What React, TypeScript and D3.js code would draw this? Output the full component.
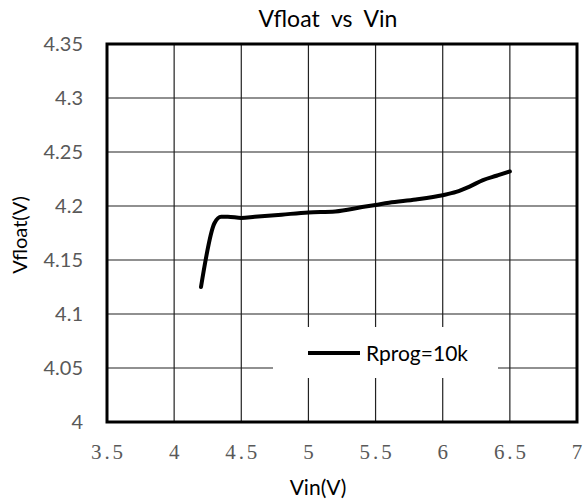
import React, { useRef, useEffect } from "react";
import * as d3 from "d3";

interface IPoint {
  vin: number;
  vfloat: number;
}

// Rprog=10k curve
const vinValues = [4.2, 4.3, 4.35, 4.4, 4.5, 4.6, 4.8, 5.0, 5.2, 5.4, 5.5, 5.6, 5.8, 6.0, 6.1, 6.2, 6.3, 6.4, 6.5];
const vfloatValues = [4.125, 4.184, 4.19, 4.19, 4.189, 4.19, 4.192, 4.194, 4.195, 4.199, 4.201, 4.203, 4.206, 4.21, 4.213, 4.218, 4.224, 4.228, 4.232];

const xTicks = [3.5, 4, 4.5, 5, 5.5, 6, 6.5, 7];
const xTickLabels = ["3.5", "4", "4.5", "5", "5.5", "6", "6.5", "7"];
const yTicks = [4, 4.05, 4.1, 4.15, 4.2, 4.25, 4.3, 4.35];
const yTickLabels = ["4", "4.05", "4.1", "4.15", "4.2", "4.25", "4.3", "4.35"];

const seriesName = "Rprog=10k";

const sans = "Lato, sans-serif";

const App: React.FC = () => {
  const ref = useRef<SVGSVGElement>(null);
  const width = 585;
  const height = 504;
  const margin = { top: 44, right: 8, bottom: 82, left: 107 };
  const innerWidth = width - margin.left - margin.right;
  const innerHeight = height - margin.top - margin.bottom;

  useEffect(() => {
    const svg = d3.select(ref.current);
    svg.selectAll("*").remove();
    const data: IPoint[] = vinValues.map((v, i) => ({ vin: v, vfloat: vfloatValues[i] }));

    const xScale = d3.scaleLinear().domain([3.5, 7]).range([0, innerWidth]);
    const yScale = d3.scaleLinear().domain([4, 4.35]).range([innerHeight, 0]);

    const g = svg.append("g").attr("transform", `translate(${margin.left}, ${margin.top})`);

    // grid
    g.selectAll(".vgrid")
      .data(xTicks.slice(1, -1))
      .enter()
      .append("line")
      .attr("x1", (d) => xScale(d))
      .attr("x2", (d) => xScale(d))
      .attr("y1", 0)
      .attr("y2", innerHeight)
      .attr("stroke", "#222")
      .attr("stroke-width", 1.2);
    g.selectAll(".hgrid")
      .data(yTicks.slice(1, -1))
      .enter()
      .append("line")
      .attr("x1", 0)
      .attr("x2", innerWidth)
      .attr("y1", (d) => yScale(d))
      .attr("y2", (d) => yScale(d))
      .attr("stroke", "#222")
      .attr("stroke-width", 1.2);

    // legend box covers the grid
    const lx = 273 - margin.left;
    const ly = 327 - margin.top;
    g.append("rect").attr("x", lx).attr("y", ly).attr("width", 225).attr("height", 51).attr("fill", "white");
    g.append("line")
      .attr("x1", lx + 35)
      .attr("x2", lx + 87)
      .attr("y1", ly + 26)
      .attr("y2", ly + 26)
      .attr("stroke", "black")
      .attr("stroke-width", 4);
    g.append("text")
      .attr("x", lx + 93)
      .attr("y", ly + 26)
      .attr("dy", "0.36em")
      .attr("font-family", sans)
      .attr("font-size", 21)
      .attr("fill", "black")
      .text(seriesName);

    // frame
    g.append("rect")
      .attr("width", innerWidth)
      .attr("height", innerHeight)
      .attr("fill", "none")
      .attr("stroke", "black")
      .attr("stroke-width", 3);

    const line = d3
      .line<IPoint>()
      .x((d) => xScale(d.vin))
      .y((d) => yScale(d.vfloat))
      .curve(d3.curveMonotoneX);

    g.append("path")
      .attr("d", line(data) || "")
      .attr("fill", "none")
      .attr("stroke", "black")
      .attr("stroke-width", 4)
      .attr("stroke-linecap", "round")
      .attr("stroke-linejoin", "round");

    // y tick labels
    g.selectAll(".ylab")
      .data(yTicks)
      .enter()
      .append("text")
      .attr("x", -24)
      .attr("y", (d) => yScale(d))
      .attr("dy", "0.36em")
      .attr("text-anchor", "end")
      .attr("font-family", sans)
      .attr("font-size", 20)
      .attr("fill", "#595959")
      .text((d, i) => yTickLabels[i]);

    // x tick labels
    g.selectAll(".xlab")
      .data(xTicks)
      .enter()
      .append("text")
      .attr("x", (d) => xScale(d) + 1.5)
      .attr("y", 459 - margin.top)
      .attr("text-anchor", "middle")
      .attr("font-family", "Liberation Serif, serif")
      .attr("font-size", 21)
      .attr("letter-spacing", 2.9)
      .attr("fill", "#595959")
      .text((d, i) => xTickLabels[i]);

    // titles
    svg.append("text")
      .attr("x", 328)
      .attr("y", 26.5)
      .attr("text-anchor", "middle")
      .attr("font-family", sans)
      .attr("font-size", 23)
      .style("white-space", "pre")
      .text("Vfloat  vs  Vin");
    svg.append("text")
      .attr("x", 318)
      .attr("y", 495)
      .attr("text-anchor", "middle")
      .attr("font-family", sans)
      .attr("font-size", 21)
      .text("Vin(V)");
    svg.append("text")
      .attr("transform", `translate(27, 235) rotate(-90)`)
      .attr("text-anchor", "middle")
      .attr("font-family", sans)
      .attr("font-size", 20)
      .text("Vfloat(V)");
  }, []);

  return (
    <svg
      ref={ref}
      width={width}
      height={height}
      style={{ position: "absolute", left: 0, top: 0, background: "white" }}
    ></svg>
  );
};

export default App;
